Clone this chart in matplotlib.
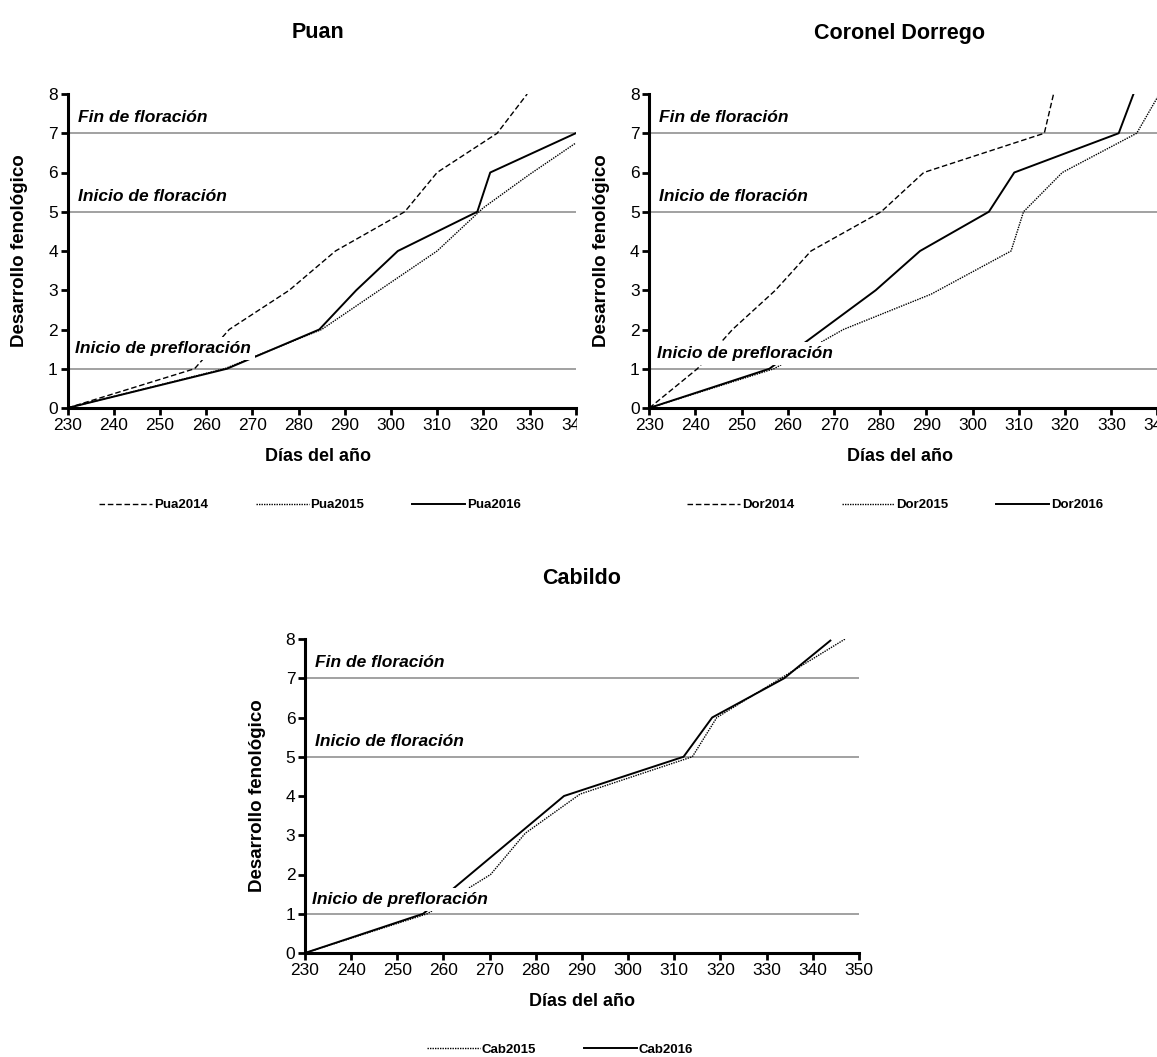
import matplotlib
matplotlib.use("Agg")
import matplotlib.pyplot as plt
from matplotlib.transforms import Bbox, TransformedBbox

plt.rcParams['font.family'] = ['Liberation Sans', 'DejaVu Sans']

W, H = 1157, 1057

# Puan
pua14_x = [230, 257.5, 265, 278, 288, 303, 310, 323, 329.5]
pua14_y = [0, 1, 2, 3, 4, 5, 6, 7, 8]
pua15_x = [230, 264, 285, 300, 310, 320, 330, 340]
pua15_y = [0, 1, 2, 3.2, 4, 5.1, 5.95, 6.75]
pua16_x = [230, 264.5, 284.5, 292.5, 301.5, 318.7, 321.5, 340]
pua16_y = [0, 1, 2, 3, 4, 5, 6, 7]

# Coronel Dorrego
dor14_x = [230, 240.4, 248, 257.3, 265, 280.2, 289.4, 315.5, 317.5]
dor14_y = [0, 1, 2, 3, 4, 5, 6, 7, 8]
dor15_x = [230, 257, 272, 291, 308.3, 311, 319.4, 335.5, 340.4]
dor15_y = [0, 1, 2, 2.9, 4, 5, 6, 7, 8]
dor16_x = [230, 256, 279, 288.6, 303.5, 309, 331.6, 334.8]
dor16_y = [0, 1, 3, 4, 5, 6, 7, 8]

# Cabildo
cab15_x = [230, 256.5, 270.2, 277.7, 289.6, 313.9, 319.2, 334.2, 347]
cab15_y = [0, 1, 2, 3.05, 4.05, 5, 6, 7.08, 8]
cab16_x = [230, 255.6, 286.1, 312, 318.2, 333.8, 343.8]
cab16_y = [0, 1, 4, 5, 6, 7, 7.96]

stage_y = [1, 5, 7]
stage_lbl = ['Inicio de prefloración', 'Inicio de floración', 'Fin de floración']
stage_txt_y = [1.5, 5.4, 7.4]

def px(x, y):
    return x / W, 1 - y / H

fig = plt.figure(figsize=(W / 100, H / 100), dpi=100)

def panel(left, top, right, bottom, xmax, xticks, series, labels, styles,
          title, title_x, leg_x, leg_y, prefl_y):
    ax = fig.add_axes([left / W, 1 - bottom / H, (right - left) / W, (bottom - top) / H])
    for (xs, ys), lab, st in zip(series, labels, styles):
        ax.plot(xs, ys, color='black', label=lab, **st)
    for s in stage_y:
        ax.axhline(s, color='#9a9a9a', lw=1.3, zorder=1)
    for lab, ty in zip(stage_lbl, stage_txt_y):
        if lab == 'Inicio de prefloración':
            ax.text(231.6, prefl_y, lab, fontsize=12.5, fontweight='bold', style='italic',
                    va='center', ha='left', zorder=5,
                    bbox=dict(facecolor='white', edgecolor='none', pad=3))
        else:
            ax.text(232.2, ty, lab, fontsize=12.5, fontweight='bold', style='italic',
                    va='center', ha='left', zorder=5)
    ax.set_xlim(230, xmax)
    ax.set_ylim(0, 8)
    ax.set_xticks(xticks)
    ax.set_yticks(range(9))
    for sp in ['top', 'right']:
        ax.spines[sp].set_visible(False)
    for sp in ['left', 'bottom']:
        ax.spines[sp].set_linewidth(2.2)
    ax.tick_params(width=2, length=5, labelsize=12.5, pad=2)
    fig.text(*px(left - 48, (top + bottom) / 2), 'Desarrollo fenológico', rotation=90,
             ha='center', va='center', fontsize=13.5, fontweight='bold')
    fig.text(*px(title_x, bottom + 49), 'Días del año', ha='center', va='center',
             fontsize=13, fontweight='bold')
    fig.text(*px(title_x, top - 61), title, ha='center', va='center',
             fontsize=15.5, fontweight='bold')
    fig.legend(handles=ax.get_lines()[:len(series)], loc='center',
               bbox_to_anchor=px(leg_x, leg_y), ncol=len(series), frameon=False,
               prop=dict(size=9.5, weight='bold'), handlelength=4.0,
               handletextpad=0.15, columnspacing=3.6)
    return ax

dash = dict(ls=(0, (4, 2)), lw=1.0)
dot = dict(ls=(0, (1, 0.8)), lw=1.0)
solid = dict(ls='-', lw=1.4)

ax1 = panel(67.5, 94, 575.7, 408, 340, range(230, 341, 10),
            [(pua14_x, pua14_y), (pua15_x, pua15_y), (pua16_x, pua16_y)],
            ['Pua2014', 'Pua2015', 'Pua2016'], [dash, dot, solid],
            'Puan', 318, 310, 505, 1.52)
clip = TransformedBbox(Bbox.from_extents(0, 0, 577 / W, 1), fig.transFigure)
for t in ax1.xaxis.get_major_ticks():
    t.label1.set_clip_box(clip)
    t.label1.set_clip_on(True)

ax2 = panel(649.3, 94, 1157.5, 408, 340, range(230, 341, 10),
            [(dor14_x, dor14_y), (dor15_x, dor15_y), (dor16_x, dor16_y)],
            ['Dor2014', 'Dor2015', 'Dor2016'], [dash, dot, solid],
            'Coronel Dorrego', 900, 895, 505, 1.39)

ax3 = panel(305, 639, 859, 953, 350, range(230, 351, 10),
            [(cab15_x, cab15_y), (cab16_x, cab16_y)],
            ['Cab2015', 'Cab2016'], [dot, solid],
            'Cabildo', 582, 560, 1050, 1.37)

fig.savefig('out.png', dpi=100)
